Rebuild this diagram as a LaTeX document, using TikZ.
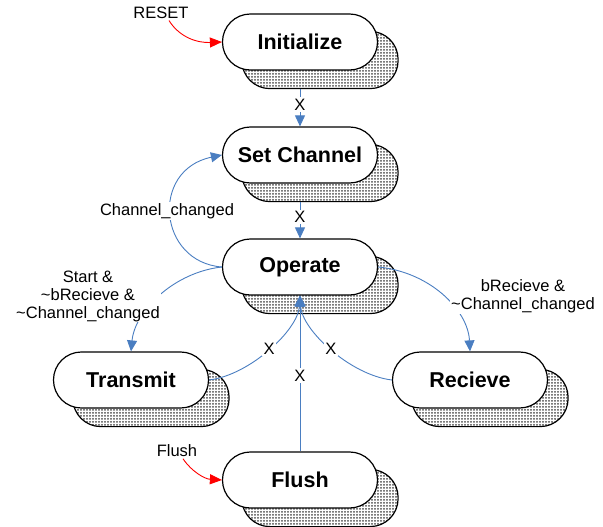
\documentclass[tikz,border=0pt]{standalone}
\usepackage{fontspec}
\setmainfont{Liberation Sans}
\usetikzlibrary{arrows.meta,patterns,backgrounds}

% fine dot screen used for the shadows
\pgfdeclarepatternformonly{fdots}{\pgfqpoint{-1.5pt}{-1.5pt}}{\pgfqpoint{1.5pt}{1.5pt}}{\pgfqpoint{3pt}{3pt}}%
  {\pgfpathcircle{\pgfqpoint{0pt}{0pt}}{1pt}\pgfusepath{fill}}

\definecolor{flowblue}{RGB}{74,126,193}

\tikzset{
  state/.style={draw=black, line width=1.2pt, fill=white, rectangle,
    rounded corners=27.9pt, minimum width=155pt, minimum height=56pt,
    inner sep=0pt, font=\fontsize{21.5}{24}\selectfont\bfseries},
  stateshadow/.style={draw=black, line width=1.2pt, pattern=fdots,
    pattern color=black!70, rounded corners=27.9pt},
  flow/.style={draw=flowblue, line width=0.9pt,
    -{Triangle[length=11pt,width=10pt]}},
  resetflow/.style={draw=red, line width=0.9pt,
    -{Triangle[length=12pt,width=10pt,fill=red]}},
  lbl/.style={font=\fontsize{16.5}{20}\selectfont, fill=white,
    inner sep=1.5pt, align=center},
}

\begin{document}
\begin{tikzpicture}[x=1pt,y=-1pt]
  \useasboundingbox (0,0) rectangle (603,527);

  % states
  \node[state] (init)  at (300,42)  {Initialize};
  \node[state] (setch) at (300,155) {Set Channel};
  \node[state] (oper)  at (300,267) {Operate};
  \node[state] (trans) at (131,380) {Transmit};
  \node[state] (recv)  at (470,380) {Recieve};
  \node[state] (flush) at (300,480) {Flush};

  % offset shadows behind each state
  \begin{pgfonlayer}{background}
    \foreach \s in {init,setch,oper,trans,recv,flush}{
      \draw[stateshadow] ([shift={(20pt,-18pt)}]\s.south west)
        rectangle ([shift={(20pt,-18pt)}]\s.north east);
    }
  \end{pgfonlayer}

  % external inputs
  \node[lbl, fill=none] (reset) at (161,13) {RESET};
  \node[lbl, fill=none] (flushin) at (177,451) {Flush};
  \draw[resetflow] ([xshift=8pt]reset.south) .. controls (180,38) and (198,43) .. (init.west);
  \draw[resetflow] ([xshift=6pt]flushin.south) .. controls (192,472) and (205,479) .. (flush.west);

  % straight transitions
  \draw[flow] ([yshift=-18pt]init.south) -- node[lbl, pos=0.42] {X} (setch.north);
  \draw[flow] ([yshift=-18pt]setch.south) -- node[lbl, pos=0.42] {X} (oper.north);
  \draw[flow] (flush.north) -- node[lbl, pos=0.487] {X} (oper.south);

  % curved transitions
  \draw[flow] (oper.west) .. controls (158,262) and (150,170) .. (setch.west);
  \node[lbl] (chg) at (167,211) {Channel\_changed};

  \draw[flow] (oper.west) .. controls (175,272) and (135,310) .. (trans.north);
  \node[lbl, inner sep=1pt] (txcond) at (88,296)
    {Start \&\\[-2pt]\textasciitilde bRecieve \&\\[-2pt]\textasciitilde Channel\_changed};

  \draw[flow] (oper.east) .. controls (430,272) and (468,310) .. (recv.north);
  \node[lbl, inner sep=1pt] (rxcond) at (523,296)
    {bRecieve \&\\[-2pt]\textasciitilde Channel\_changed};

  \draw[flow] (trans.east) .. controls (250,375) and (298,330) .. node[lbl, pos=0.5] {X} (oper.south);
  \draw[flow] (recv.west) .. controls (350,375) and (302,330) .. node[lbl, pos=0.5] {X} (oper.south);
\end{tikzpicture}
\end{document}
